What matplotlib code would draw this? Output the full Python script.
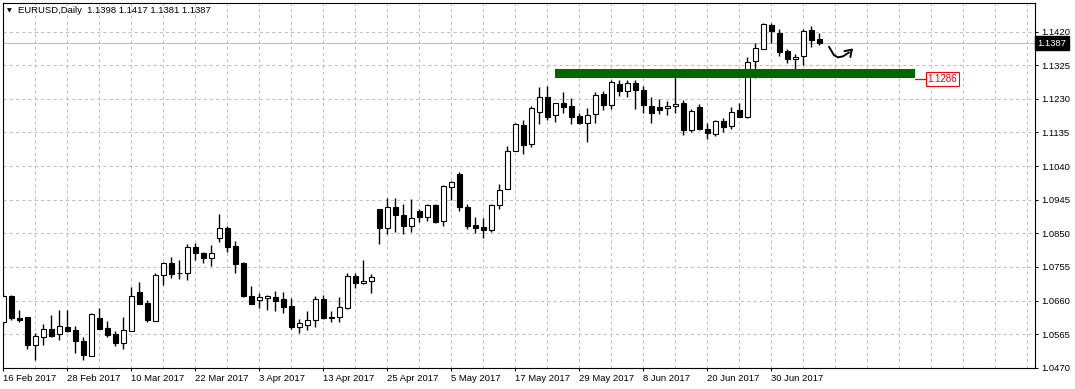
import matplotlib.pyplot as plt
import numpy as np
import pandas as pd

plt.rcParams['font.family'] = ['Liberation Sans', 'DejaVu Sans']

# daily bars, weekdays only
dates = pd.bdate_range('2017-02-16', '2017-07-10')

opens = [1.0599, 1.0673, 1.0611, 1.0613, 1.0535, 1.0556, 1.0581, 1.0565, 1.0584, 1.0576,
         1.0545, 1.0503, 1.0611, 1.0582, 1.0565, 1.0539, 1.0575, 1.0685, 1.0654, 1.0601,
         1.0733, 1.0765, 1.0739, 1.0738, 1.0810, 1.0795, 1.0780, 1.0838, 1.0864, 1.0813,
         1.0765, 1.0673, 1.0661, 1.0666, 1.0670, 1.0664, 1.0644, 1.0586, 1.0592, 1.0604,
         1.0665, 1.0613, 1.0614, 1.0640, 1.0730, 1.0710, 1.0715, 1.0918, 1.0866, 1.0924,
         1.0901, 1.0870, 1.0912, 1.0895, 1.0930, 1.0885, 1.0981, 1.1018, 1.0925, 1.0873,
         1.0868, 1.0860, 1.0929, 1.0974, 1.1082, 1.1156, 1.1103, 1.1194, 1.1235, 1.1183,
         1.1218, 1.1210, 1.1181, 1.1162, 1.1186, 1.1244, 1.1212, 1.1272, 1.1252, 1.1275,
         1.1256, 1.1210, 1.1207, 1.1203, 1.1209, 1.1218, 1.1141, 1.1207, 1.1146, 1.1131,
         1.1166, 1.1152, 1.1198, 1.1179, 1.1336, 1.1372, 1.1438, 1.1417, 1.1364, 1.1342,
         1.1351, 1.1424, 1.1398]
highs = [1.0679, 1.0676, 1.0634, 1.0614, 1.0568, 1.0594, 1.0618, 1.0632, 1.0632, 1.0587,
         1.0556, 1.0624, 1.0639, 1.0603, 1.0573, 1.0614, 1.0699, 1.0713, 1.0661, 1.0739,
         1.0768, 1.0782, 1.0775, 1.0820, 1.0822, 1.0796, 1.0817, 1.0905, 1.0872, 1.0827,
         1.0770, 1.0701, 1.0682, 1.0676, 1.0688, 1.0685, 1.0668, 1.0608, 1.0630, 1.0674,
         1.0676, 1.0630, 1.0670, 1.0737, 1.0737, 1.0775, 1.0736, 1.0918, 1.0950, 1.0950,
         1.0933, 1.0947, 1.0920, 1.0934, 1.0934, 1.0986, 1.0999, 1.1022, 1.0934, 1.0896,
         1.0893, 1.0933, 1.0990, 1.1096, 1.1162, 1.1169, 1.1210, 1.1264, 1.1267, 1.1218,
         1.1249, 1.1232, 1.1189, 1.1204, 1.1248, 1.1253, 1.1284, 1.1284, 1.1284, 1.1284,
         1.1266, 1.1236, 1.1229, 1.1224, 1.1295, 1.1226, 1.1200, 1.1214, 1.1162, 1.1169,
         1.1175, 1.1207, 1.1218, 1.1347, 1.1389, 1.1445, 1.1444, 1.1427, 1.1372, 1.1357,
         1.1427, 1.1437, 1.1417]
lows = [1.0589, 1.0604, 1.0600, 1.0523, 1.0492, 1.0534, 1.0556, 1.0549, 1.0571, 1.0513,
        1.0492, 1.0502, 1.0579, 1.0556, 1.0532, 1.0524, 1.0574, 1.0650, 1.0599, 1.0601,
        1.0703, 1.0725, 1.0722, 1.0717, 1.0774, 1.0766, 1.0758, 1.0825, 1.0796, 1.0737,
        1.0670, 1.0649, 1.0639, 1.0634, 1.0631, 1.0625, 1.0581, 1.0568, 1.0577, 1.0585,
        1.0608, 1.0600, 1.0599, 1.0636, 1.0696, 1.0706, 1.0680, 1.0820, 1.0848, 1.0853,
        1.0848, 1.0853, 1.0882, 1.0885, 1.0879, 1.0871, 1.0944, 1.0913, 1.0862, 1.0850,
        1.0836, 1.0853, 1.0920, 1.0974, 1.1082, 1.1074, 1.1094, 1.1159, 1.1170, 1.1165,
        1.1191, 1.1159, 1.1159, 1.1108, 1.1162, 1.1198, 1.1202, 1.1238, 1.1236, 1.1202,
        1.1191, 1.1162, 1.1188, 1.1183, 1.1191, 1.1129, 1.1136, 1.1141, 1.1117, 1.1126,
        1.1137, 1.1146, 1.1178, 1.1176, 1.1288, 1.1370, 1.1388, 1.1350, 1.1332, 1.1313,
        1.1326, 1.1375, 1.1381]
closes = [1.0673, 1.0611, 1.0606, 1.0535, 1.0559, 1.0581, 1.0561, 1.0587, 1.0575, 1.0546,
          1.0505, 1.0622, 1.0581, 1.0563, 1.0541, 1.0576, 1.0673, 1.0651, 1.0604, 1.0733,
          1.0765, 1.0734, 1.0738, 1.0810, 1.0794, 1.0780, 1.0795, 1.0864, 1.0811, 1.0764,
          1.0672, 1.0651, 1.0670, 1.0673, 1.0660, 1.0643, 1.0585, 1.0596, 1.0605, 1.0664,
          1.0611, 1.0612, 1.0641, 1.0730, 1.0709, 1.0716, 1.0727, 1.0866, 1.0924, 1.0903,
          1.0872, 1.0892, 1.0897, 1.0930, 1.0882, 1.0984, 1.0995, 1.0923, 1.0871, 1.0866,
          1.0860, 1.0930, 1.0972, 1.1082, 1.1159, 1.1100, 1.1203, 1.1235, 1.1179, 1.1218,
          1.1208, 1.1179, 1.1162, 1.1184, 1.1240, 1.1212, 1.1277, 1.1251, 1.1275, 1.1254,
          1.1212, 1.1191, 1.1199, 1.1210, 1.1215, 1.1143, 1.1195, 1.1145, 1.1132, 1.1166,
          1.1149, 1.1192, 1.1179, 1.1334, 1.1374, 1.1440, 1.1422, 1.1362, 1.1343, 1.1349,
          1.1421, 1.1397, 1.1387]

price_ticks = [1.0470, 1.0565, 1.0660, 1.0755, 1.0850, 1.0945, 1.1040, 1.1135, 1.1230, 1.1325, 1.1420]
last_price = 1.1387

# support zone drawn on the chart (bar index span, price span) and its label value
zone_bars = [68.95, 113.95]
zone_prices = [1.1288, 1.1313]
zone_label = 1.1286

# hand-drawn arrow after the last bar
arrow_bars = [103.2, 103.8, 104.3, 104.95, 105.7, 106.45]
arrow_prices = [1.1377, 1.1354, 1.1347, 1.1350, 1.1361, 1.1378]

o = np.array(opens)
h = np.array(highs)
l = np.array(lows)
c = np.array(closes)
x = np.arange(len(dates))

fig = plt.figure(figsize=(10.75, 3.89), dpi=100)
ax = fig.add_axes([3 / 1075, 21 / 389, 1032 / 1075, 365 / 389])

# grid
for p in price_ticks:
    ax.axhline(p, color='#c0c0c0', lw=0.75, ls=(0, (3, 3)), zorder=0)
for gx in range(4, 129, 4):
    ax.axvline(gx, color='#c0c0c0', lw=0.75, ls=(0, (3, 3)), zorder=0)

# current price line
ax.axhline(last_price, color='#c0c0c0', lw=0.9, zorder=1)

# candles
ax.vlines(x, l, h, color='black', lw=1.0, zorder=2)
up = c >= o
body = np.maximum(np.abs(c - o), 0.00012)
ax.bar(x, body, width=0.6, bottom=np.minimum(o, c),
       color=np.where(up, 'white', 'black'), edgecolor='black', linewidth=0.8, zorder=3)

# support zone
ax.fill_between(zone_bars, zone_prices[0], zone_prices[1], color='#006400', lw=0, zorder=4)
ax.plot([zone_bars[1], zone_bars[1] + 1.4], [zone_label, zone_label], color='red', lw=0.9, zorder=4)
ax.text(zone_bars[1] + 1.6, zone_label, f'{zone_label:.4f}', color='red', fontsize=7,
        ha='left', va='center', zorder=5,
        bbox=dict(boxstyle='square,pad=0.2', fc='white', ec='red', lw=0.8))

# arrow
ax.plot(arrow_bars[:-1], arrow_prices[:-1], color='black', lw=1.4, solid_capstyle='round', zorder=5)
ax.annotate('', xy=(arrow_bars[-1], arrow_prices[-1]), xytext=(arrow_bars[-2], arrow_prices[-2]),
            arrowprops=dict(arrowstyle='->,head_length=0.45,head_width=0.3', lw=1.4, color='black'), zorder=5)

ax.set_xlim(-0.05, 128.95)
ax.set_ylim(1.04694, 1.15007)

ax.yaxis.tick_right()
ax.set_yticks(price_ticks)
ax.set_yticklabels([f'{p:.4f}' for p in price_ticks])
ax.tick_params(axis='y', length=2.4, width=0.75, pad=2.2, labelsize=6.8, colors='black')

xt = list(range(0, len(dates), 8))
ax.set_xticks(xt)
ax.set_xticklabels([f'{dates[i].day} {dates[i].strftime("%b %Y")}' for i in xt])
for lab in ax.get_xticklabels():
    lab.set_horizontalalignment('left')
ax.tick_params(axis='x', length=2.4, width=0.75, pad=1.6, labelsize=6.8, colors='black')

for s in ax.spines.values():
    s.set_color('black')
    s.set_linewidth(0.8)

# price tag on the right axis
ax.text(1.0025, last_price, f'{last_price:.4f}', transform=ax.get_yaxis_transform(),
        color='white', fontsize=6.8, ha='left', va='center',
        bbox=dict(boxstyle='square,pad=0.25', fc='black', ec='black'))

# header
fig.text(7 / 1075, 1 - 10.5 / 389, '▼', fontsize=4.5, family='DejaVu Sans', ha='left', va='center')
fig.text(18 / 1075, 1 - 10.5 / 389,
         f'EURUSD,Daily  {opens[-1]:.4f} {highs[-1]:.4f} {lows[-1]:.4f} {closes[-1]:.4f}',
         fontsize=6.8, ha='left', va='center')

fig.savefig('out.png', dpi=100, facecolor='white')
